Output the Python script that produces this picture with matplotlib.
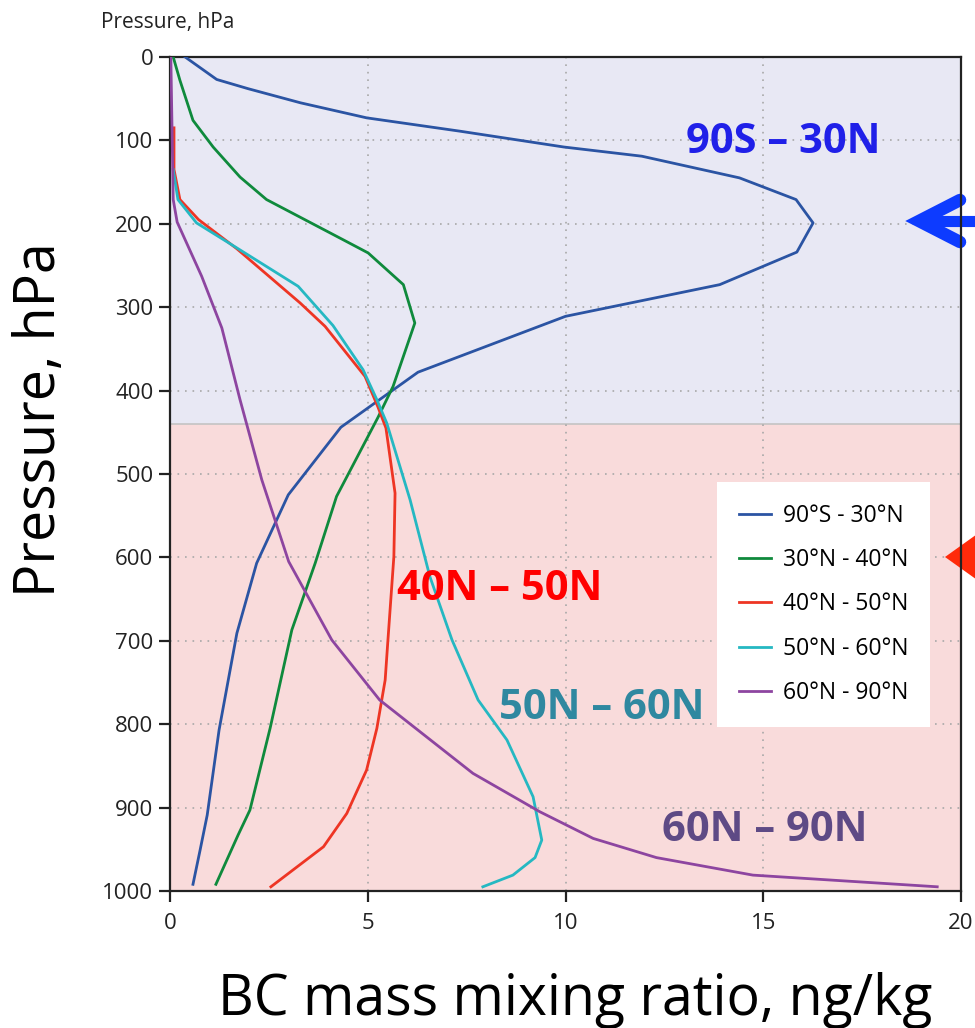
import matplotlib
matplotlib.use("Agg")
import matplotlib.pyplot as plt
from matplotlib.lines import Line2D
from matplotlib.patches import Polygon

plt.rcParams["font.family"] = ["Open Sans", "DejaVu Sans"]

# BC mass mixing ratio (ng/kg) vs pressure (hPa)
p_90s_30n = [0, 27, 38, 55, 73, 89, 108, 119, 145, 171, 199, 234, 273, 311, 378, 444, 525, 607, 691, 807, 909, 951, 992]
bc_90s_30n = [0.38, 1.18, 1.97, 3.3, 4.97, 7.33, 9.96, 11.93, 14.4, 15.83, 16.26, 15.85, 13.9, 10.0, 6.27, 4.32, 2.99, 2.19, 1.69, 1.24, 0.94, 0.76, 0.58]

p_30n_40n = [0, 28, 76, 108, 144, 171, 219, 235, 273, 319, 395, 432, 527, 607, 687, 805, 903, 933, 992]
bc_30n_40n = [0.08, 0.25, 0.58, 1.09, 1.77, 2.44, 4.37, 5.01, 5.9, 6.19, 5.64, 5.26, 4.21, 3.67, 3.08, 2.53, 2.02, 1.72, 1.16]

p_40n_50n = [85, 135, 171, 195, 230, 295, 323, 383, 420, 445, 523, 599, 699, 747, 805, 855, 907, 947, 995]
bc_40n_50n = [0.1, 0.1, 0.25, 0.72, 1.69, 3.29, 3.92, 4.93, 5.26, 5.46, 5.69, 5.66, 5.51, 5.44, 5.23, 4.97, 4.47, 3.88, 2.55]

p_50n_60n = [135, 171, 199, 229, 275, 322, 375, 411, 439, 531, 623, 699, 771, 819, 887, 939, 960, 981, 995]
bc_50n_60n = [0.08, 0.2, 0.67, 1.69, 3.24, 4.12, 4.88, 5.23, 5.48, 6.07, 6.57, 7.13, 7.79, 8.52, 9.18, 9.4, 9.23, 8.67, 7.91]

p_60n_90n = [0, 171, 198, 263, 325, 411, 507, 605, 699, 771, 859, 905, 937, 960, 981, 995]
bc_60n_90n = [0.02, 0.08, 0.18, 0.8, 1.31, 1.77, 2.32, 3.0, 4.09, 5.3, 7.66, 9.35, 10.7, 12.3, 14.74, 19.4]

series = [
    (bc_90s_30n, p_90s_30n, "90°S - 30°N", "#2b54a3"),
    (bc_30n_40n, p_30n_40n, "30°N - 40°N", "#0f8a3c"),
    (bc_40n_50n, p_40n_50n, "40°N - 50°N", "#ee3524"),
    (bc_50n_60n, p_50n_60n, "50°N - 60°N", "#25b8c2"),
    (bc_60n_90n, p_60n_90n, "60°N - 90°N", "#8d45a0"),
]

fig = plt.figure(figsize=(9.75, 10.28), dpi=100)
ax = fig.add_axes([0.1744, 0.1333, 0.8112, 0.8113])

# upper / lower troposphere shading
ax.axhspan(0, 440, color="#e8e8f4", zorder=0)
ax.axhspan(440, 1000, color="#f9dbdb", zorder=0)
ax.axhline(440, color="#c4c4c4", lw=1.2, zorder=0.5)

for x, p, lab, c in series:
    ax.plot(x, p, color=c, lw=2.0, label=lab, zorder=3)

ax.set_xlim(0, 20)
ax.set_ylim(1000, 0)
ax.set_xticks([0, 5, 10, 15, 20])
ax.set_yticks(range(0, 1001, 100))
ax.grid(True, color="#a8a8a8", lw=1.2, linestyle=(0, (1, 3.5)), zorder=1)
ax.tick_params(direction="out", length=8, width=1.6, labelsize=16, colors="#222222", pad=4)
ax.tick_params(axis="x", pad=8)
for s in ax.spines.values():
    s.set_linewidth(1.6)
    s.set_color("#222222")

ax.set_ylabel("Pressure, hPa", fontsize=40, va="center")
ax.yaxis.set_label_coords(-0.164, 0.565)
ax.set_xlabel("BC mass mixing ratio, ng/kg", fontsize=40, va="center")
ax.xaxis.set_label_coords(0.512, -0.131)
fig.text(0.104, 0.978, "Pressure, hPa", fontsize=15, ha="left", va="center", color="#222222")

leg = ax.legend(loc="upper left", bbox_to_anchor=(0.692, 0.49), fontsize=16.5,
                frameon=True, fancybox=False, edgecolor="none", facecolor="white",
                framealpha=1, handlelength=1.4, handletextpad=0.5,
                borderpad=0.95, labelspacing=0.88, borderaxespad=0)
leg.set_zorder(5)

lbl = dict(fontsize=30, fontweight="bold", ha="center", va="center", zorder=6)
ax.text(15.5, 102, "90S – 30N", color="#2020e8", **lbl)
ax.text(8.34, 639, "40N – 50N", color="#ff0000", **lbl)
ax.text(10.92, 781, "50N – 60N", color="#2f88a0", **lbl)
ax.text(15.04, 927, "60N – 90N", color="#5e4a85", **lbl)

# arrows at right edge (cut off by the figure border)
W, H = 975.0, 1028.0
def fx(px):
    return px / W
def fy(py):
    return 1 - py / H

blue = "#0d3bff"
ax.add_line(Line2D([fx(960), fx(919), fx(960)], [fy(200), fy(221), fy(242)],
                   color=blue, lw=9, solid_capstyle="round", solid_joinstyle="miter",
                   transform=fig.transFigure, clip_on=False, zorder=2.4))
ax.add_line(Line2D([fx(924), fx(980)], [fy(221), fy(221)], color=blue, lw=8,
                   solid_capstyle="butt", transform=fig.transFigure, clip_on=False, zorder=2.4))
ax.add_patch(Polygon([(fx(945), fy(557)), (fx(980), fy(532)), (fx(980), fy(582))],
                     closed=True, facecolor="#ff2a0a", edgecolor="none",
                     transform=fig.transFigure, clip_on=False, zorder=2.4))

fig.savefig("out.png", dpi=100)
